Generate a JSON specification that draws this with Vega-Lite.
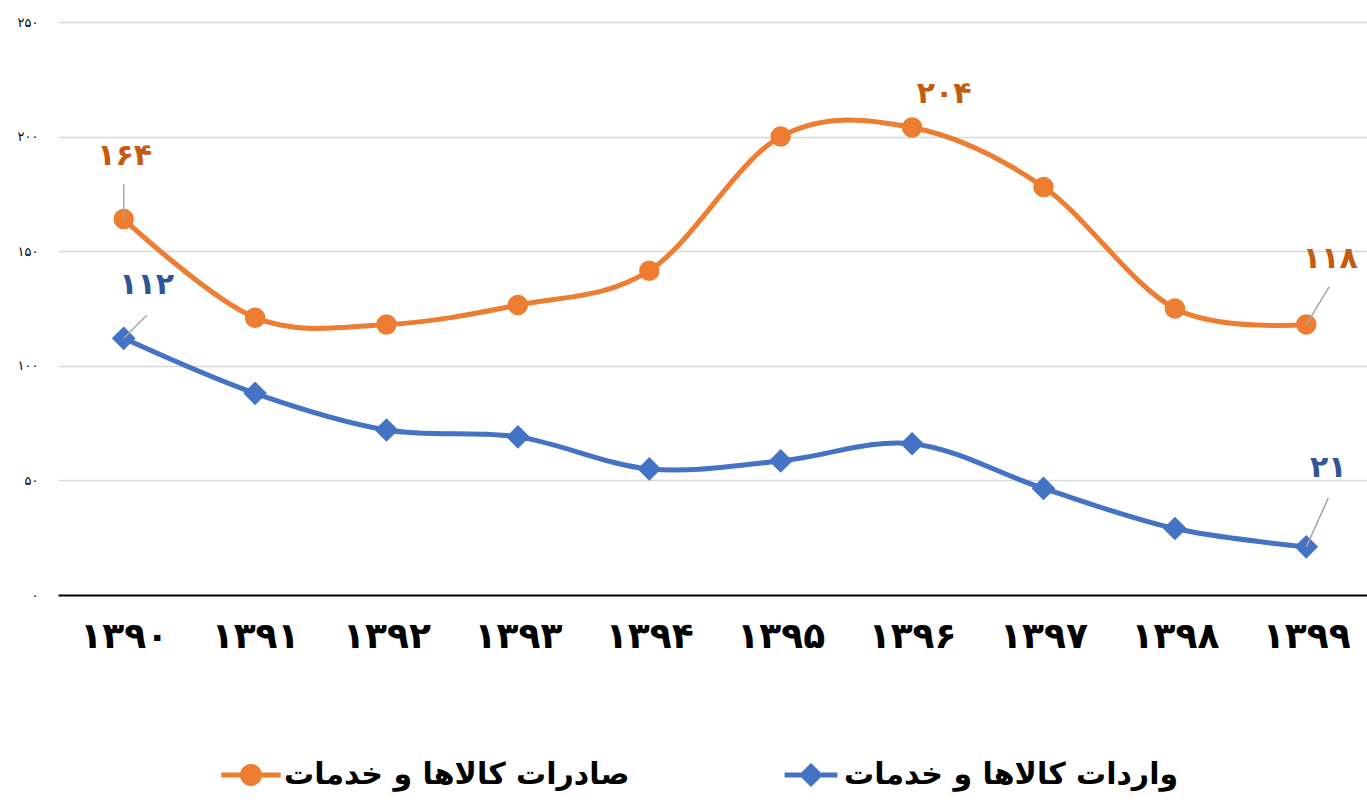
{
  "$schema": "https://vega.github.io/schema/vega-lite/v6.json",
  "autosize": {"type": "none"},
  "padding": {"left": 58, "top": 22, "right": 0, "bottom": 211},
  "width": 1314,
  "height": 573,
  "background": "white",
  "config": {
    "font": "DejaVu Sans",
    "view": {"stroke": null}
  },
  "data": {
    "values": [
      {"year": "۱۳۹۰", "series": "صادرات کالاها و خدمات", "value": 164, "label": "۱۶۴"},
      {"year": "۱۳۹۱", "series": "صادرات کالاها و خدمات", "value": 121, "label": ""},
      {"year": "۱۳۹۲", "series": "صادرات کالاها و خدمات", "value": 118, "label": ""},
      {"year": "۱۳۹۳", "series": "صادرات کالاها و خدمات", "value": 126.5, "label": ""},
      {"year": "۱۳۹۴", "series": "صادرات کالاها و خدمات", "value": 141.5, "label": ""},
      {"year": "۱۳۹۵", "series": "صادرات کالاها و خدمات", "value": 200, "label": ""},
      {"year": "۱۳۹۶", "series": "صادرات کالاها و خدمات", "value": 204, "label": "۲۰۴"},
      {"year": "۱۳۹۷", "series": "صادرات کالاها و خدمات", "value": 178, "label": ""},
      {"year": "۱۳۹۸", "series": "صادرات کالاها و خدمات", "value": 125, "label": ""},
      {"year": "۱۳۹۹", "series": "صادرات کالاها و خدمات", "value": 118, "label": "۱۱۸"},
      {"year": "۱۳۹۰", "series": "واردات کالاها و خدمات", "value": 112, "label": "۱۱۲"},
      {"year": "۱۳۹۱", "series": "واردات کالاها و خدمات", "value": 88, "label": ""},
      {"year": "۱۳۹۲", "series": "واردات کالاها و خدمات", "value": 72, "label": ""},
      {"year": "۱۳۹۳", "series": "واردات کالاها و خدمات", "value": 69, "label": ""},
      {"year": "۱۳۹۴", "series": "واردات کالاها و خدمات", "value": 55, "label": ""},
      {"year": "۱۳۹۵", "series": "واردات کالاها و خدمات", "value": 58.5, "label": ""},
      {"year": "۱۳۹۶", "series": "واردات کالاها و خدمات", "value": 66, "label": ""},
      {"year": "۱۳۹۷", "series": "واردات کالاها و خدمات", "value": 46.5, "label": ""},
      {"year": "۱۳۹۸", "series": "واردات کالاها و خدمات", "value": 29, "label": ""},
      {"year": "۱۳۹۹", "series": "واردات کالاها و خدمات", "value": 21, "label": "۲۱"}
    ]
  },
  "encoding": {
    "x": {
      "field": "year", "type": "ordinal", "sort": null,
      "scale": {"type": "point", "padding": 0.5},
      "axis": {
        "title": null, "labelAngle": 0, "ticks": false, "grid": false,
        "domain": true, "domainColor": "#000000", "domainWidth": 2,
        "labelFontSize": 36, "labelFontWeight": "bold", "labelColor": "#000000",
        "labelPadding": 24, "labelFont": "DejaVu Sans"
      }
    },
    "y": {
      "field": "value", "type": "quantitative",
      "scale": {"domain": [0, 250], "nice": false, "zero": true},
      "axis": {
        "title": null, "values": [0, 50, 100, 150, 200, 250],
        "domain": false, "ticks": false, "grid": true,
        "gridColor": "#D9D9D9", "gridWidth": 1.5,
        "labelFontSize": 13, "labelColor": "#000000", "labelPadding": 20,
        "labelExpr": "datum.value == 0 ? '۰' : datum.value == 50 ? '۵۰' : datum.value == 100 ? '۱۰۰' : datum.value == 150 ? '۱۵۰' : datum.value == 200 ? '۲۰۰' : '۲۵۰'"
      }
    }
  },
  "layer": [
    {
      "mark": {"type": "point", "filled": true, "opacity": 0, "size": 484},
      "encoding": {
        "color": {
          "field": "series", "type": "nominal",
          "scale": {"domain": ["صادرات کالاها و خدمات", "واردات کالاها و خدمات"], "range": ["#ED7D31", "#4472C4"]},
          "legend": {
            "title": null, "orient": "none", "direction": "horizontal",
            "legendX": 178, "legendY": 738,
            "labelFontSize": 30, "labelFontWeight": "bold", "labelColor": "#000000",
            "labelFont": "DejaVu Sans", "labelLimit": 600,
            "symbolSize": 484, "labelOffset": 18, "columnPadding": 154,
            "symbolOpacity": 1, "symbolStrokeWidth": 0
          }
        },
        "shape": {
          "field": "series", "type": "nominal",
          "scale": {
            "domain": ["صادرات کالاها و خدمات", "واردات کالاها و خدمات"],
            "range": [
              "M1,0 A1,1 0 1,1 -1,0 A1,1 0 1,1 1,0 Z M-2.7,-0.22 H2.7 V0.22 H-2.7 Z",
              "M0,-1.1 L1.1,0 L0,1.1 L-1.1,0 Z M-2.4,-0.22 H2.4 V0.22 H-2.4 Z"
            ]
          },
          "legend": {
            "title": null, "orient": "none", "direction": "horizontal",
            "legendX": 178, "legendY": 738,
            "labelFontSize": 30, "labelFontWeight": "bold", "labelColor": "#000000",
            "labelFont": "DejaVu Sans", "labelLimit": 600,
            "symbolSize": 484, "labelOffset": 18, "columnPadding": 154,
            "symbolOpacity": 1, "symbolStrokeWidth": 0
          }
        }
      }
    },
    {
      "mark": {"type": "line", "interpolate": "cardinal", "strokeWidth": 5},
      "encoding": {
        "color": {"field": "series", "type": "nominal", "legend": null}
      }
    },
    {
      "transform": [{"filter": "datum.series == 'صادرات کالاها و خدمات'"}],
      "mark": {"type": "point", "shape": "circle", "filled": true, "opacity": 1, "color": "#ED7D31", "size": 420}
    },
    {
      "transform": [{"filter": "datum.series == 'واردات کالاها و خدمات'"}],
      "mark": {"type": "point", "shape": "diamond", "filled": true, "opacity": 1, "color": "#4472C4", "size": 560}
    },
    {
      "transform": [{"filter": "datum.label == '۱۶۴'"}],
      "mark": {"type": "rule", "color": "#A6A6A6", "strokeWidth": 1.5, "yOffset": -35, "y2Offset": 0},
      "encoding": {"x2": {"field": "year"}, "y2": {"field": "value"}}
    },
    {
      "transform": [{"filter": "datum.label == '۱۱۲'"}],
      "mark": {"type": "rule", "color": "#A6A6A6", "strokeWidth": 1.5, "x2Offset": 23, "y2Offset": -23},
      "encoding": {"x2": {"field": "year"}, "y2": {"field": "value"}}
    },
    {
      "transform": [{"filter": "datum.label == '۱۱۸'"}],
      "mark": {"type": "rule", "color": "#A6A6A6", "strokeWidth": 1.5, "x2Offset": 23, "y2Offset": -38},
      "encoding": {"x2": {"field": "year"}, "y2": {"field": "value"}}
    },
    {
      "transform": [{"filter": "datum.label == '۲۱'"}],
      "mark": {"type": "rule", "color": "#A6A6A6", "strokeWidth": 1.5, "x2Offset": 22, "y2Offset": -49},
      "encoding": {"x2": {"field": "year"}, "y2": {"field": "value"}}
    },
    {
      "transform": [{"filter": "datum.label == '۱۶۴'"}],
      "mark": {"type": "text", "color": "#C55A11", "fontSize": 30, "fontWeight": "bold", "dx": 1, "dy": -63, "baseline": "middle"},
      "encoding": {"text": {"field": "label"}}
    },
    {
      "transform": [{"filter": "datum.label == '۲۰۴'"}],
      "mark": {"type": "text", "color": "#C55A11", "fontSize": 30, "fontWeight": "bold", "dx": 32, "dy": -33, "baseline": "middle"},
      "encoding": {"text": {"field": "label"}}
    },
    {
      "transform": [{"filter": "datum.label == '۱۱۸'"}],
      "mark": {"type": "text", "color": "#C55A11", "fontSize": 30, "fontWeight": "bold", "dx": 24, "dy": -66, "baseline": "middle"},
      "encoding": {"text": {"field": "label"}}
    },
    {
      "transform": [{"filter": "datum.label == '۱۱۲'"}],
      "mark": {"type": "text", "color": "#2F5597", "fontSize": 30, "fontWeight": "bold", "dx": 23, "dy": -53, "baseline": "middle"},
      "encoding": {"text": {"field": "label"}}
    },
    {
      "transform": [{"filter": "datum.label == '۲۱'"}],
      "mark": {"type": "text", "color": "#2F5597", "fontSize": 30, "fontWeight": "bold", "dx": 22, "dy": -79, "baseline": "middle"},
      "encoding": {"text": {"field": "label"}}
    }
  ]
}
